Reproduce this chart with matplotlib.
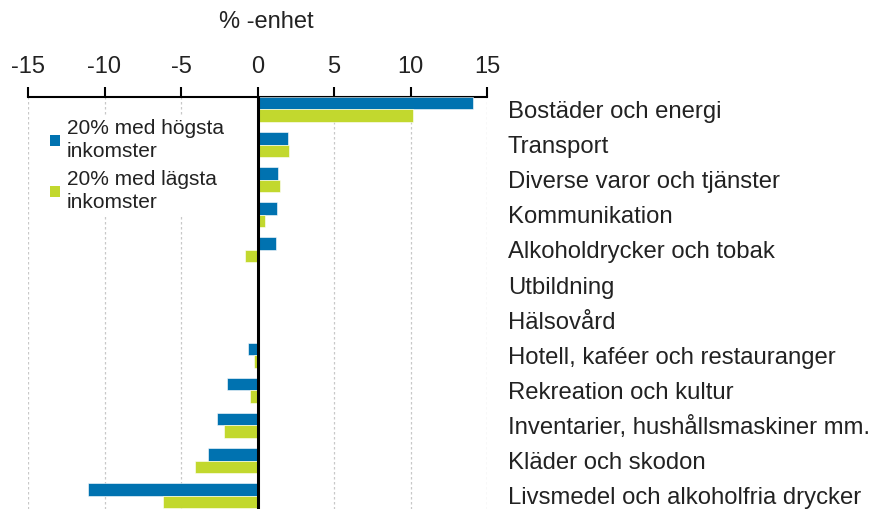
import matplotlib
matplotlib.use("Agg")
import matplotlib.pyplot as plt
from matplotlib.patches import Patch
import numpy as np

categories = ["Bostäder och energi", "Transport", "Diverse varor och tjänster",
              "Kommunikation", "Alkoholdrycker och tobak", "Utbildning", "Hälsovård",
              "Hotell, kaféer och restauranger", "Rekreation och kultur",
              "Inventarier, hushållsmaskiner mm.", "Kläder och skodon",
              "Livsmedel och alkoholfria drycker"]
hogsta = [14.06, 1.99, 1.37, 1.27, 1.18, 0.0, 0.0, -0.61, -1.98, -2.62, -3.24, -11.09]
lagsta = [10.16, 2.09, 1.48, 0.52, -0.80, 0.0, 0.0, -0.20, -0.52, -2.18, -4.07, -6.17]
series_labels = ["20% med högsta\ninkomster", "20% med lägsta\ninkomster"]
xticks = [-15, -10, -5, 0, 5, 10, 15]

BLUE = "#0072B0"
GREEN = "#C2D82E"

plt.rcParams['font.family'] = ['Liberation Sans', 'DejaVu Sans']

W, H = 873, 509
fig = plt.figure(figsize=(W / 100, H / 100), dpi=100)
ax = fig.add_axes([28 / W, 0, (487 - 28) / W, (509 - 97) / H])

y = np.arange(len(categories))
bh = 0.355
ax.barh(y - bh / 2, hogsta, height=bh, color=BLUE, edgecolor="white", linewidth=0.4, zorder=3)
ax.barh(y + bh / 2, lagsta, height=bh, color=GREEN, edgecolor="white", linewidth=0.4, zorder=3)

ax.set_xlim(-15, 15)
ax.set_ylim(11.38, -0.355)

ax.xaxis.tick_top()
ax.set_xticks(xticks)
ax.set_xticklabels([str(t) for t in xticks], fontsize=17)
ax.tick_params(axis="x", direction="out", length=7.5, width=1.5, pad=6, colors="black")
for lab in ax.get_xticklabels():
    lab.set_color("#222222")

ax.yaxis.tick_right()
ax.set_yticks(y)
ax.set_yticklabels(categories, fontsize=17.2, color="#222222")
ax.tick_params(axis="y", length=0, pad=15)

for s in ["left", "right", "bottom"]:
    ax.spines[s].set_visible(False)
ax.spines["top"].set_linewidth(1.5)

for t in xticks:
    if t != 0:
        ax.axvline(t, color="#c8c8c8", linestyle=(0, (2, 2)), linewidth=0.9, zorder=1)
ax.axvline(0, color="black", linewidth=2.2, zorder=4)

fig.text(266 / W, 1 - 22 / H, "% -enhet", ha="center", va="center", fontsize=17, color="#222222")

handles = [Patch(facecolor=BLUE, edgecolor="none"), Patch(facecolor=GREEN, edgecolor="none")]
leg = ax.legend(handles, series_labels, loc="upper left", bbox_to_anchor=(46 / W, 1 - 115 / H),
                bbox_transform=fig.transFigure, frameon=True, fontsize=15,
                handlelength=0.45, handleheight=0.45, handletextpad=0.35,
                labelspacing=0.45, borderpad=0.2, borderaxespad=0)
leg.get_frame().set_facecolor("white")
leg.get_frame().set_edgecolor("none")
leg.get_frame().set_alpha(1)
leg.set_zorder(5)
for t in leg.get_texts():
    t.set_color("#222222")
    t.set_linespacing(1.25)

fig.savefig("out.png", dpi=100)
